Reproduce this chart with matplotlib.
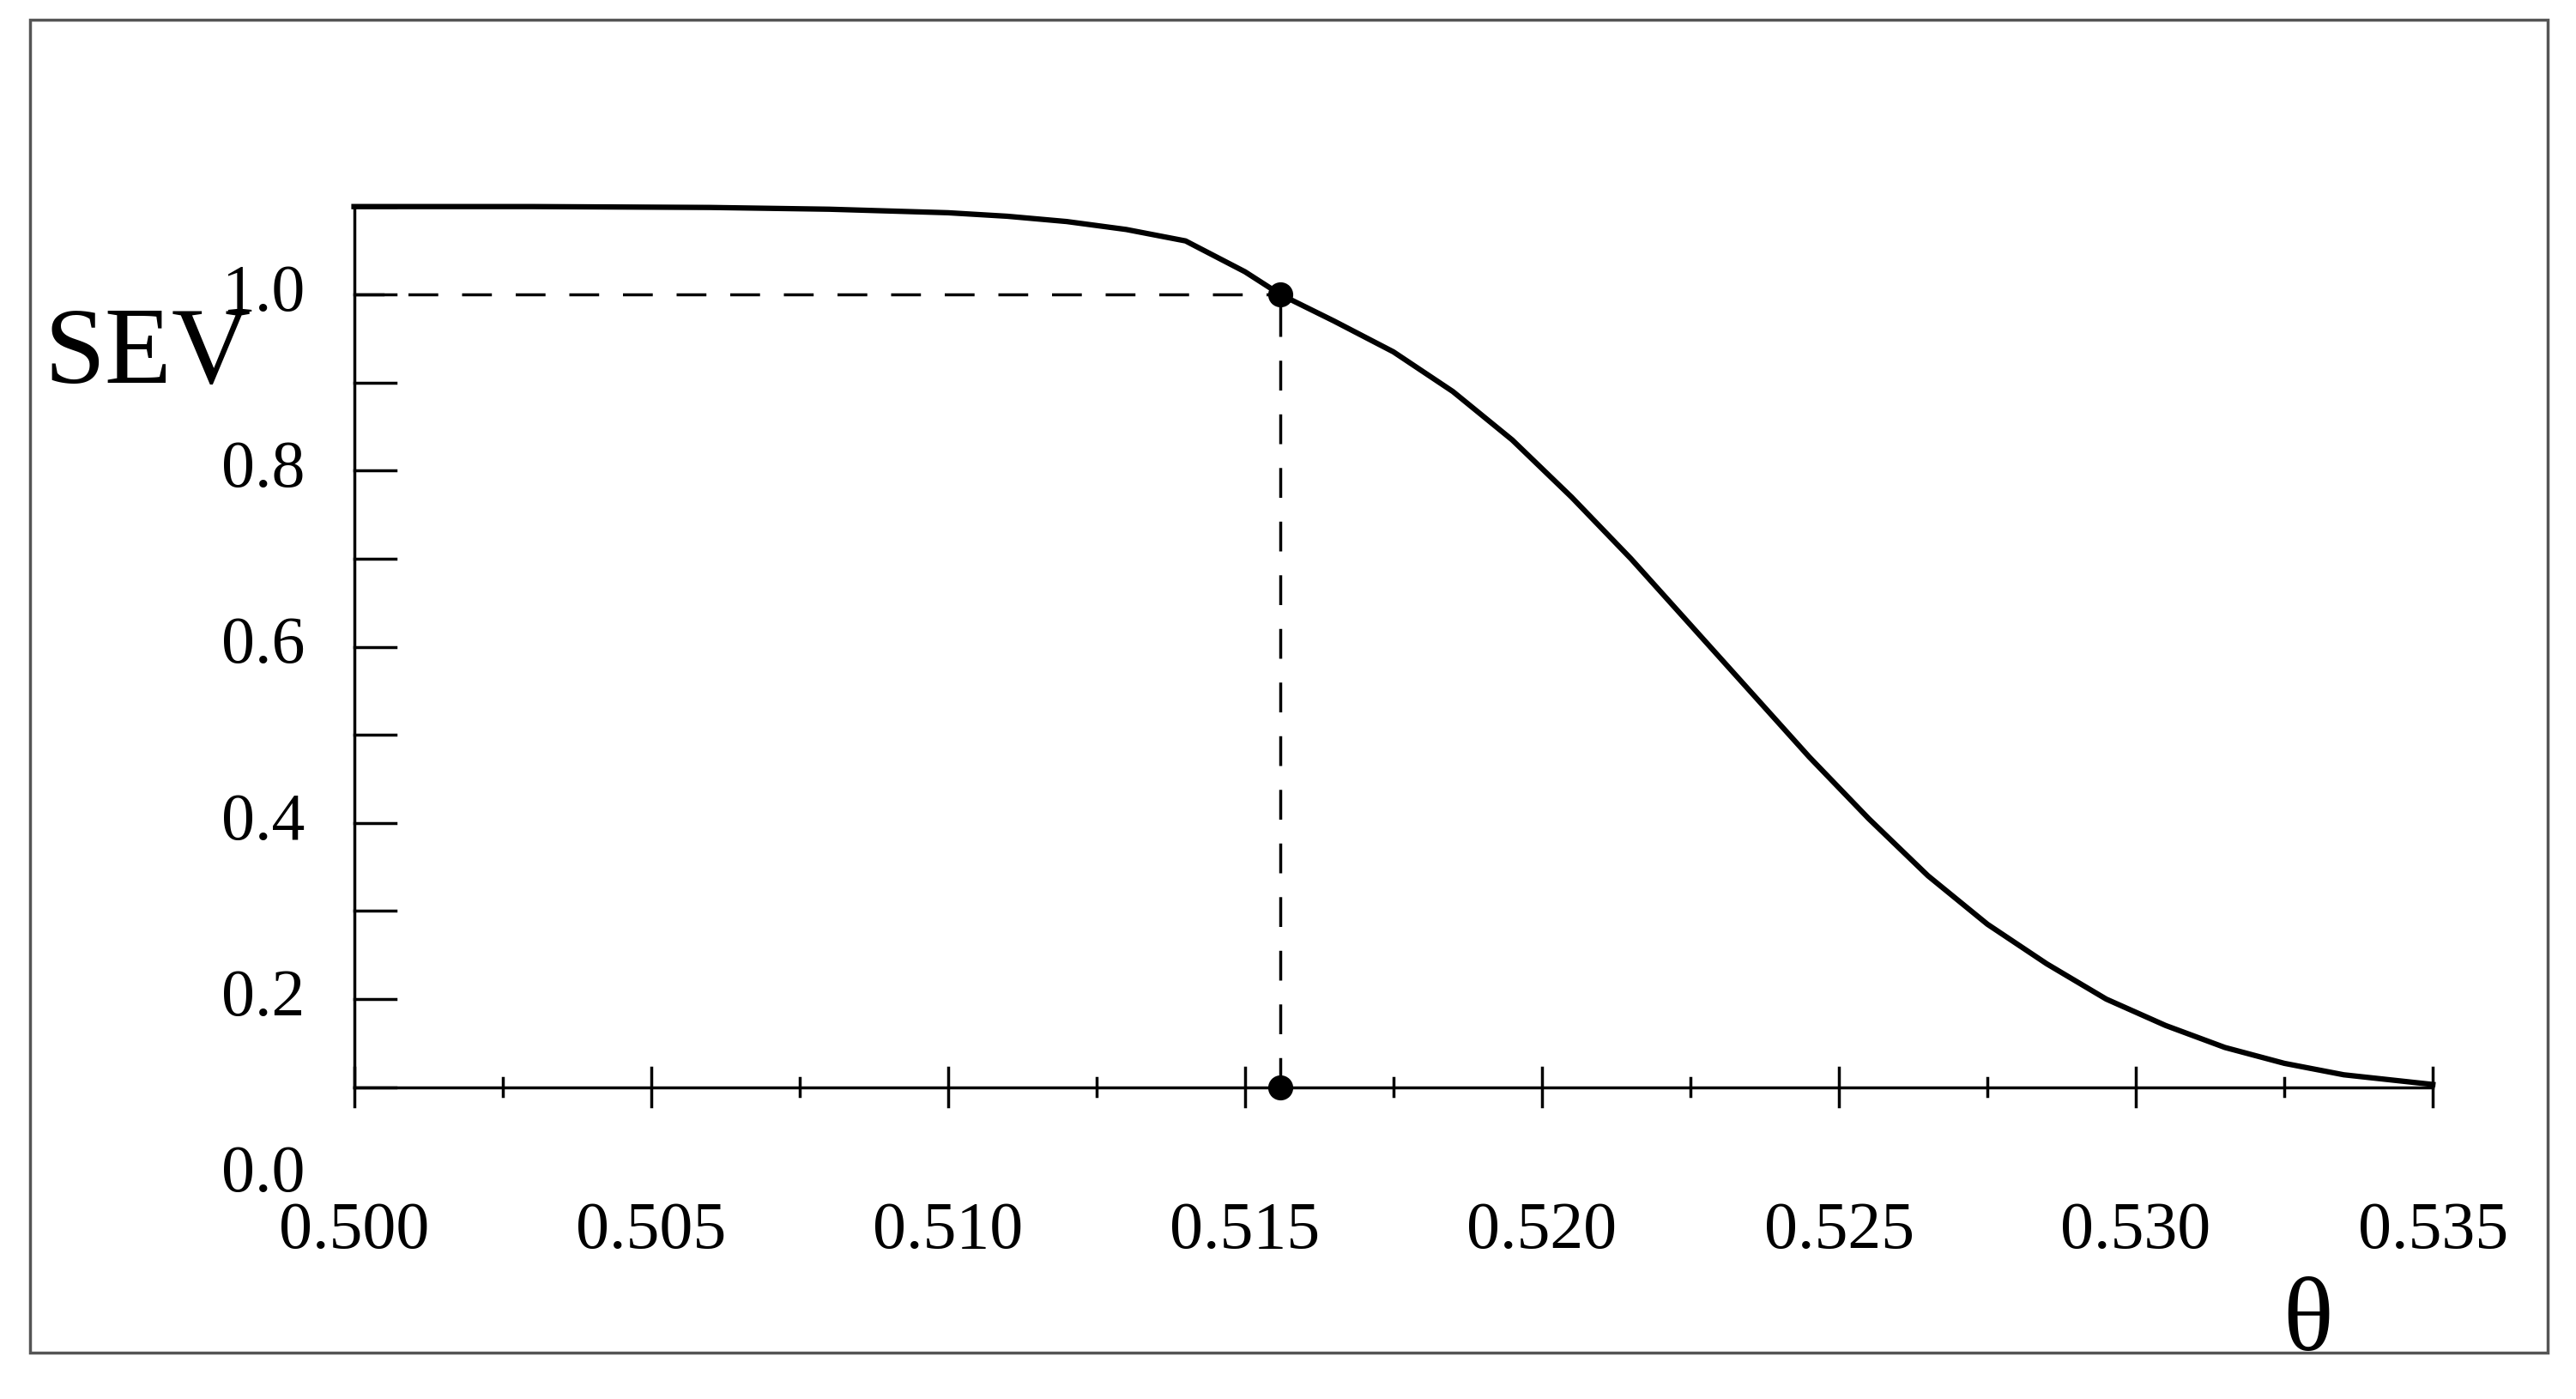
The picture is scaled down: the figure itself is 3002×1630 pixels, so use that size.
import matplotlib.pyplot as plt
from matplotlib.patches import Rectangle

theta = [0.500, 0.503, 0.506, 0.508, 0.510, 0.511, 0.512, 0.513, 0.514,
         0.515, 0.5156, 0.5165, 0.5175, 0.5185, 0.5195, 0.5205, 0.5215,
         0.5225, 0.5235, 0.5245, 0.5255, 0.5265, 0.5275, 0.5285, 0.5295,
         0.5305, 0.5315, 0.5325, 0.5335, 0.535]
sev = [1.100, 1.100, 1.099, 1.097, 1.093, 1.089, 1.083, 1.074, 1.061,
       1.026, 1.000, 0.970, 0.935, 0.890, 0.835, 0.770, 0.700,
       0.625, 0.550, 0.475, 0.405, 0.340, 0.285, 0.240, 0.200,
       0.170, 0.145, 0.127, 0.114, 0.103]
x_point = 0.5156
y_ticks = [0.0, 0.2, 0.4, 0.6, 0.8, 1.0]
x_ticks = [0.500, 0.505, 0.510, 0.515, 0.520, 0.525, 0.530, 0.535]

plt.rcParams['font.family'] = ['Liberation Serif', 'DejaVu Serif']

fig = plt.figure(figsize=(30.02, 16.30), dpi=100)
ax = fig.add_axes([0, 0, 1, 1])
ax.set_xlim(0.49404, 0.53741)
ax.set_ylim(-0.2542, 1.3346)
ax.axis('off')

# outer frame
ax.add_patch(Rectangle((18 / 1565, 1 - 822 / 850), 1530 / 1565, 810 / 850,
                       transform=ax.transAxes, fill=False, ec='#555555', lw=2.5))

# axes lines
ax.plot([0.500, 0.535], [0.1, 0.1], color='black', lw=2.5)
ax.plot([0.500, 0.500], [0.1, 1.1], color='black', lw=2.5)
for i in range(15):
    xv = 0.500 + i * 0.0025
    h = 0.022 if i % 2 == 0 else 0.01
    ax.plot([xv, xv], [0.1 - h, 0.1 + h], color='black', lw=2.5)
for i in range(11):
    yv = 0.1 + i * 0.1
    ax.plot([0.500, 0.5007], [yv, yv], color='black', lw=2.5)

# tick labels
for yv in y_ticks:
    ax.text(0.49847, yv, f"{yv:.1f}", fontsize=56, ha='center', va='center')
for xv in x_ticks:
    ax.text(xv, -0.064, f"{xv:.3f}", fontsize=56, ha='center', va='center')

# curve and guides
ax.plot(theta, sev, color='black', lw=4.5, solid_joinstyle='round')
ax.plot([0.500, x_point], [1.0, 1.0], color='black', lw=2.5, dashes=(10, 8))
ax.plot([x_point, x_point], [0.1, 1.0], color='black', lw=2.5, dashes=(10, 8))
ax.plot([x_point, x_point], [1.0, 0.1], 'o', color='black', ms=20)

ax.text(0.49653, 0.93, "SEV", fontsize=92, ha='center', va='center')
ax.text(0.5329, -0.17, "θ", fontsize=88, ha='center', va='center')

fig.savefig("out.png", dpi=100, facecolor='white')
